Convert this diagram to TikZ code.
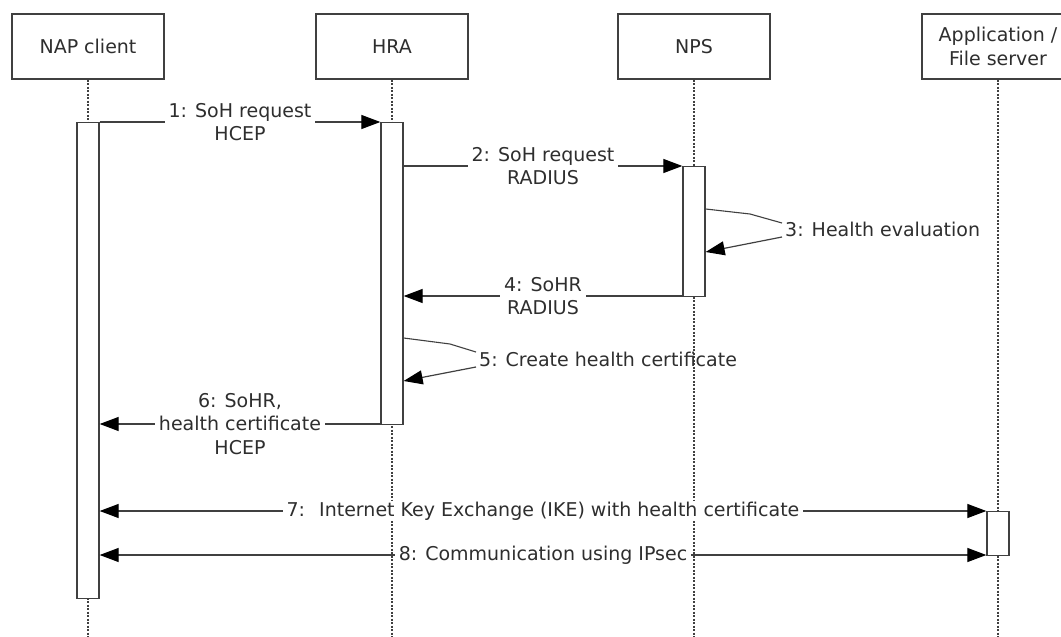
\documentclass[tikz,border=0pt]{standalone}
\usepackage{fontspec}
\setmainfont{DejaVu Sans}
\usetikzlibrary{arrows.meta}
\definecolor{ln}{HTML}{404040}
\definecolor{tx}{HTML}{2E2E2E}
\begin{document}
\begin{tikzpicture}[x=1pt,y=-1pt,
  font=\fontsize{19}{23.5}\selectfont, text=tx,
  actor/.style={draw=ln, line width=1.4pt, minimum width=152pt, minimum height=65pt, align=center, inner sep=0pt, fill=white},
  life/.style={draw=ln, line width=1.2pt, dash pattern=on 2pt off 1.5pt},
  act/.style={draw=ln, line width=1.3pt, fill=white, minimum width=22pt, inner sep=0pt, anchor=north},
  msg/.style={draw=ln, line width=1.2pt, -{Triangle[length=19pt,width=14pt,color=black]}},
  dmsg/.style={draw=ln, line width=1.2pt, {Triangle[length=19pt,width=14pt,color=black]}-{Triangle[length=19pt,width=14pt,color=black]}},
  seg/.style={draw=ln, line width=1.1pt},
  lbl/.style={fill=white, inner xsep=4pt, inner ysep=1pt, align=center},
  slbl/.style={inner xsep=3pt, inner ysep=1pt, anchor=west},
]
\useasboundingbox (0,0) rectangle (1061,637);

% actors
\node[actor] (nap) at (88,46.5) {NAP client};
\node[actor] (hra) at (392,46.5) {HRA};
\node[actor] (nps) at (694,46.5) {NPS};
\node[actor] (app) at (998,46.5) {Application /\\File server};

% lifelines
\draw[life] (nap.south) -- (nap.south |- 0,637);
\draw[life] (hra.south) -- (hra.south |- 0,637);
\draw[life] (nps.south) -- (nps.south |- 0,637);
\draw[life] (app.south) -- (app.south |- 0,637);

% activations
\node[act, minimum height=476pt] (aN) at (88,122) {};
\node[act, minimum height=302pt] (aH) at (392,122) {};
\node[act, minimum height=130pt] (aP) at (694,166) {};
\node[act, minimum height=44pt] (aA) at (998,511) {};

% messages
\draw[msg] (aN.east |- 0,122) -- node[lbl] {1: SoH request\\HCEP} (aH.west |- 0,122);
\draw[msg] (aH.east |- 0,166) -- node[lbl] {2: SoH request\\RADIUS} (aP.west |- 0,166);

% self message 3
\node[slbl] (l3) at (782,229) {3: Health evaluation};
\coordinate (s3a) at (aP.east |- 0,209);
\coordinate (s3b) at (aP.east |- 0,252);
\draw[seg] (s3a) -- (750,214) -- (l3.west |- 0,223);
\draw[msg] (l3.west |- 0,237) -- (s3b);

\draw[msg] (aP.west |- 0,296) -- node[lbl] {4: SoHR\\RADIUS} (aH.east |- 0,296);

% self message 5
\node[slbl] (l5) at (476,359) {5: Create health certificate};
\coordinate (s5a) at (aH.east |- 0,338);
\coordinate (s5b) at (aH.east |- 0,381);
\draw[seg] (s5a) -- (450,344) -- (l5.west |- 0,352);
\draw[msg] (l5.west |- 0,367) -- (s5b);

\draw[msg] (aH.west |- 0,424) -- node[lbl] {6: SoHR,\\health certificate\\HCEP} (aN.east |- 0,424);

\draw[dmsg] (aN.east |- 0,511) -- node[lbl] {7:~ Internet Key Exchange (IKE) with health certificate} (aA.west |- 0,511);
\draw[dmsg] (aN.east |- 0,555) -- node[lbl] {8: Communication using IPsec} (aA.west |- 0,555);
\end{tikzpicture}
\end{document}
